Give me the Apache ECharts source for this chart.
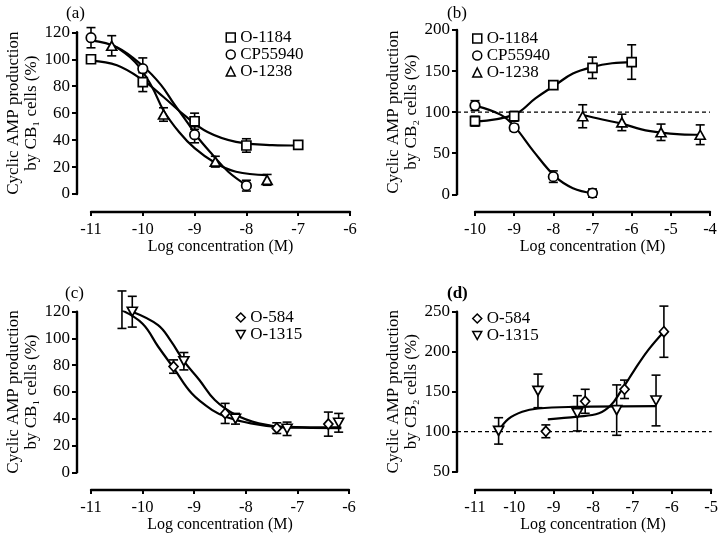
<!DOCTYPE html>
<html>
<head>
<meta charset="utf-8">
<script src="https://cdn.jsdelivr.net/npm/echarts@6/dist/echarts.min.js"></script>
<style>
html,body{margin:0;padding:0;background:#fff;}
#chart{width:721px;height:538px;}
</style>
</head>
<body>
<div id="chart"></div>
<script>
// ---------- Panel (a): CB1 ----------
const a_x_1184 = [-11, -10, -9, -8, -7];
const a_y_1184 = [100, 83, 54, 36, 36.5];
const a_e_1184 = [1.5, 7, 6, 5, 3];
const a_x_cp = [-11, -10, -9, -8];
const a_y_cp = [116, 93, 44, 6.2];
const a_e_cp = [7.5, 8, 6, 4];
const a_x_1238 = [-10.6, -9.6, -8.6, -7.6];
const a_y_1238 = [110, 59, 24, 10.5];
const a_e_1238 = [7.5, 5, 4, 4];
const a_fit_1184_x = [-11, -10.5, -10, -9.6, -9.2, -8.75, -8.2, -7.5, -7];
const a_fit_1184_y = [99, 95.5, 84.5, 72, 58.5, 46, 38.7, 36.3, 36];
const a_fit_cp_x = [-11, -10.5, -10, -9.65, -9.4, -9.12, -8.95, -8.65, -8.35, -8];
const a_fit_cp_y = [114, 109, 95, 81, 67, 52, 42.5, 29, 16.5, 6.5];
const a_fit_1238_x = [-10.6, -10.15, -9.83, -9.6, -9.3, -9, -8.6, -8.2, -7.6];
const a_fit_1238_y = [111, 98, 80, 62, 46, 34, 23, 16.5, 14];

// ---------- Panel (b): CB2 ----------
const b_x_1184 = [-10, -9, -8, -7, -6];
const b_y_1184 = [89, 95, 133, 154, 161];
const b_e_1184 = [6, 6, 4, 13, 21];
const b_x_cp = [-10, -9, -8, -7];
const b_y_cp = [108, 81, 21.5, 1.5];
const b_e_cp = [6, 4, 7, 5];
const b_x_1238 = [-7.25, -6.25, -5.25, -4.25];
const b_y_1238 = [95, 87.5, 75.5, 72.5];
const b_e_1238 = [14, 10, 10, 12];
const b_fit_1184_x = [-10, -9, -8.45, -7.95, -7.5, -7, -6.5, -6];
const b_fit_1184_y = [88.5, 97, 117, 133, 147, 155, 159.5, 161];
const b_fit_cp_x = [-10, -9.35, -9, -8.5, -7.95, -7.5, -7];
const b_fit_cp_y = [108, 97, 83, 52, 21.5, 7.5, 1.5];
const b_fit_1238_x = [-7.25, -6.75, -6.25, -5.75, -5.25, -4.75, -4.25];
const b_fit_1238_y = [96.5, 91, 86, 79, 75, 73, 72.5];
const b_ref = 100;

// ---------- Panel (c): CB1 ----------
const c_x_584 = [-10.4, -9.4, -8.4, -7.4, -6.4];
const c_y_584 = [121.5, 79, 44, 33, 36];
const c_e_584 = [14, 5, 7.5, 4, 9];
const c_x_1315 = [-10.2, -9.2, -8.2, -7.2, -6.2];
const c_y_1315 = [120, 83, 40, 32.5, 37];
const c_e_1315 = [11.5, 6.5, 4, 5, 7];
const c_fit_584_x = [-10.4, -10, -9.7, -9.4, -9.05, -8.65, -8.35, -7.9, -7.4, -6.9, -6.15];
const c_fit_584_y = [121, 111, 94, 78, 59, 46.5, 41, 36.6, 34, 33.3, 33];
const c_fit_1315_x = [-10.2, -9.7, -9.45, -9.2, -8.9, -8.6, -8.2, -7.75, -7.25, -6.15];
const c_fit_1315_y = [120, 110, 98, 83, 69, 54, 43, 36.6, 34, 33.5];

// ---------- Panel (d): CB2 ----------
const d_x_584 = [-9.2, -8.2, -7.2, -6.2];
const d_y_584 = [100.5, 138, 153, 225];
const d_e_584 = [8, 15, 11.5, 32];
const d_x_1315 = [-10.4, -9.4, -8.4, -7.4, -6.4];
const d_y_1315 = [101, 151, 123, 127, 139];
const d_e_1315 = [16.5, 21, 22, 31.5, 31.7];
const d_fit_584_x = [-9.15, -8.4, -7.85, -7.55, -7.3, -6.95, -6.6, -6.2];
const d_fit_584_y = [115.5, 118.8, 123, 133, 150, 177, 202, 225];
const d_fit_1315_x = [-10.4, -10.15, -9.8, -9.4, -8.5, -6.4];
const d_fit_1315_y = [101, 116, 125, 129, 131, 132];
const d_ref = 100;

// ---------- tick / label text ----------
const xTitle = 'Log concentration (M)';
const yTitleCB1 = 'Cyclic AMP production\nby CB\u2081 cells (%)';
const yTitleCB2 = 'Cyclic AMP production\nby CB\u2082 cells (%)';
const panelLabels = ['(a)', '(b)', '(c)', '(d)'];

const F = '"Liberation Serif","Times New Roman",Times,serif';
const DOWN_TRI = 'path://M0,0L10,0L5,9Z';
const SYM = {
  'O-1184': 'rect', 'CP55940': 'circle', 'O-1238': 'triangle',
  'O-584': 'diamond', 'O-1315': DOWN_TRI
};
const SIZE = {
  'O-1184': 9, 'CP55940': 9.5, 'O-1238': [10, 9],
  'O-584': [9, 10], 'O-1315': [10, 9]
};

function zip(xs, ys) { return xs.map((x, i) => [x, ys[i]]); }
function zip3(xs, ys, es) { return xs.map((x, i) => [x, ys[i], es[i]]); }

function errRender(params, api) {
  const x = api.value(0), y = api.value(1), e = api.value(2);
  const t = api.coord([x, y + e]);
  const b = api.coord([x, y - e]);
  const w = 4.5;
  const st = { stroke: '#000', lineWidth: 1.6 };
  return {
    type: 'group',
    children: [
      { type: 'line', shape: { x1: t[0], y1: t[1], x2: b[0], y2: b[1] }, style: st },
      { type: 'line', shape: { x1: t[0] - w, y1: t[1], x2: t[0] + w, y2: t[1] }, style: st },
      { type: 'line', shape: { x1: b[0] - w, y1: b[1], x2: b[0] + w, y2: b[1] }, style: st }
    ]
  };
}

const series = [];
function addPoints(ax, name, xs, ys, es) {
  series.push({
    type: 'custom', xAxisIndex: ax, yAxisIndex: ax, renderItem: errRender,
    data: zip3(xs, ys, es), encode: { x: 0, y: 1 }, z: 3, silent: true, clip: false
  });
  series.push({
    type: 'scatter', name: name, xAxisIndex: ax, yAxisIndex: ax,
    data: zip(xs, ys), symbol: SYM[name], symbolSize: SIZE[name],
    itemStyle: { color: '#fff', borderColor: '#000', borderWidth: 1.7, opacity: 1 },
    z: 5, silent: true
  });
}
function addFit(ax, xs, ys) {
  series.push({
    type: 'line', xAxisIndex: ax, yAxisIndex: ax, data: zip(xs, ys),
    smooth: 0.4, showSymbol: false, symbol: 'none',
    lineStyle: { color: '#000', width: 2.2 }, z: 2, silent: true
  });
}
function addRef(ax, level) {
  series.push({
    type: 'line', xAxisIndex: ax, yAxisIndex: ax, data: [[0, level], [1, level]],
    showSymbol: false, symbol: 'none',
    lineStyle: { color: '#000', width: 1.2, type: [4, 3] }, z: 1, silent: true
  });
}

// axis indices: 0=a, 1=b, 2=b ref, 3=c, 4=d, 5=d ref
addFit(0, a_fit_1184_x, a_fit_1184_y);
addFit(0, a_fit_cp_x, a_fit_cp_y);
addFit(0, a_fit_1238_x, a_fit_1238_y);
addPoints(0, 'O-1184', a_x_1184, a_y_1184, a_e_1184);
addPoints(0, 'CP55940', a_x_cp, a_y_cp, a_e_cp);
addPoints(0, 'O-1238', a_x_1238, a_y_1238, a_e_1238);

addRef(2, b_ref);
addFit(1, b_fit_1184_x, b_fit_1184_y);
addFit(1, b_fit_cp_x, b_fit_cp_y);
addFit(1, b_fit_1238_x, b_fit_1238_y);
addPoints(1, 'O-1184', b_x_1184, b_y_1184, b_e_1184);
addPoints(1, 'CP55940', b_x_cp, b_y_cp, b_e_cp);
addPoints(1, 'O-1238', b_x_1238, b_y_1238, b_e_1238);

addFit(3, c_fit_584_x, c_fit_584_y);
addFit(3, c_fit_1315_x, c_fit_1315_y);
addPoints(3, 'O-584', c_x_584, c_y_584, c_e_584);
addPoints(3, 'O-1315', c_x_1315, c_y_1315, c_e_1315);

addRef(5, d_ref);
addFit(4, d_fit_584_x, d_fit_584_y);
addFit(4, d_fit_1315_x, d_fit_1315_y);
addPoints(4, 'O-584', d_x_584, d_y_584, d_e_584);
addPoints(4, 'O-1315', d_x_1315, d_y_1315, d_e_1315);

const grids = [
  { left: 91, top: 32.3, width: 259, height: 161.7 },
  { left: 475, top: 30, width: 235, height: 164.3 },
  { left: 457, top: 30, width: 253, height: 164.3 },
  { left: 91, top: 311.7, width: 258, height: 160.6 },
  { left: 475, top: 311.7, width: 236.7, height: 160 },
  { left: 457, top: 311.7, width: 254.7, height: 160 }
];

const txt = { color: '#000', fontFamily: F };
function xAx(gi, min, max, offset) {
  return {
    type: 'value', gridIndex: gi, min: min, max: max, interval: 1, offset: offset,
    position: 'bottom',
    axisLine: { show: true, onZero: false, lineStyle: { color: '#000', width: 2.4 } },
    axisTick: { show: true, inside: false, length: 4, lineStyle: { color: '#000', width: 2 } },
    axisLabel: Object.assign({ fontSize: 16.5, margin: 9 }, txt),
    splitLine: { show: false },
    name: xTitle, nameLocation: 'middle', nameGap: 22,
    nameTextStyle: Object.assign({ fontSize: 16 }, txt)
  };
}
function yAx(gi, min, max, interval, offset, title) {
  return {
    type: 'value', gridIndex: gi, min: min, max: max, interval: interval, offset: offset,
    position: 'left',
    axisLine: { show: true, onZero: false, lineStyle: { color: '#000', width: 2.4 } },
    axisTick: { show: true, inside: false, length: 5, lineStyle: { color: '#000', width: 2 } },
    axisLabel: Object.assign({ fontSize: 17, margin: 7 }, txt),
    splitLine: { show: false },
    name: title, nameLocation: 'middle', nameRotate: 90, nameGap: 35,
    nameTextStyle: Object.assign({ fontSize: 17, lineHeight: 18 }, txt)
  };
}
function hidden(gi, min, max) {
  return { type: 'value', gridIndex: gi, min: min, max: max, show: false,
           axisLine: { onZero: false }, splitLine: { show: false } };
}

const xAxes = [
  xAx(0, -11, -6, 18),
  xAx(1, -10, -4, 17.7),
  hidden(2, 0, 1),
  xAx(3, -11, -6, 17.7),
  xAx(4, -11, -5, 18.3),
  hidden(5, 0, 1)
];
const yAxes = [
  yAx(0, 0, 120, 20, 14, yTitleCB1),
  yAx(1, 0, 200, 50, 18, yTitleCB2),
  hidden(2, 0, 200),
  yAx(3, 0, 120, 20, 14, yTitleCB1),
  yAx(4, 50, 250, 50, 18, yTitleCB2),
  hidden(5, 50, 250)
];

function legendItem(name) {
  return { name: name, icon: SYM[name],
           itemStyle: { color: '#fff', borderColor: '#000', borderWidth: 1.5 } };
}
function legendAt(names, left, top) {
  return {
    data: names.map(legendItem), left: left, top: top, orient: 'vertical',
    itemWidth: 9, itemHeight: 9, itemGap: 0, padding: 0, selectedMode: false,
    textStyle: Object.assign({ fontSize: 17, lineHeight: 16.5 }, txt)
  };
}

const titlePos = [[66, 5], [447, 5], [65, 285], [447, 285]];
const titles = panelLabels.map((t, i) => ({
  text: t, left: titlePos[i][0], top: titlePos[i][1], padding: 0,
  textStyle: Object.assign({ fontSize: 17, fontWeight: i === 3 ? 'bold' : 'normal' }, txt)
}));

const chart = echarts.init(document.getElementById('chart'), null, { renderer: 'canvas' });
chart.setOption({
  backgroundColor: '#fff',
  animation: false,
  title: titles,
  legend: [
    legendAt(['O-1184', 'CP55940', 'O-1238'], 225.5, 29),
    legendAt(['O-1184', 'CP55940', 'O-1238'], 472, 30),
    legendAt(['O-584', 'O-1315'], 235.5, 309),
    legendAt(['O-584', 'O-1315'], 472, 310)
  ],
  grid: grids,
  xAxis: xAxes,
  yAxis: yAxes,
  series: series
});
</script>
</body>
</html>
